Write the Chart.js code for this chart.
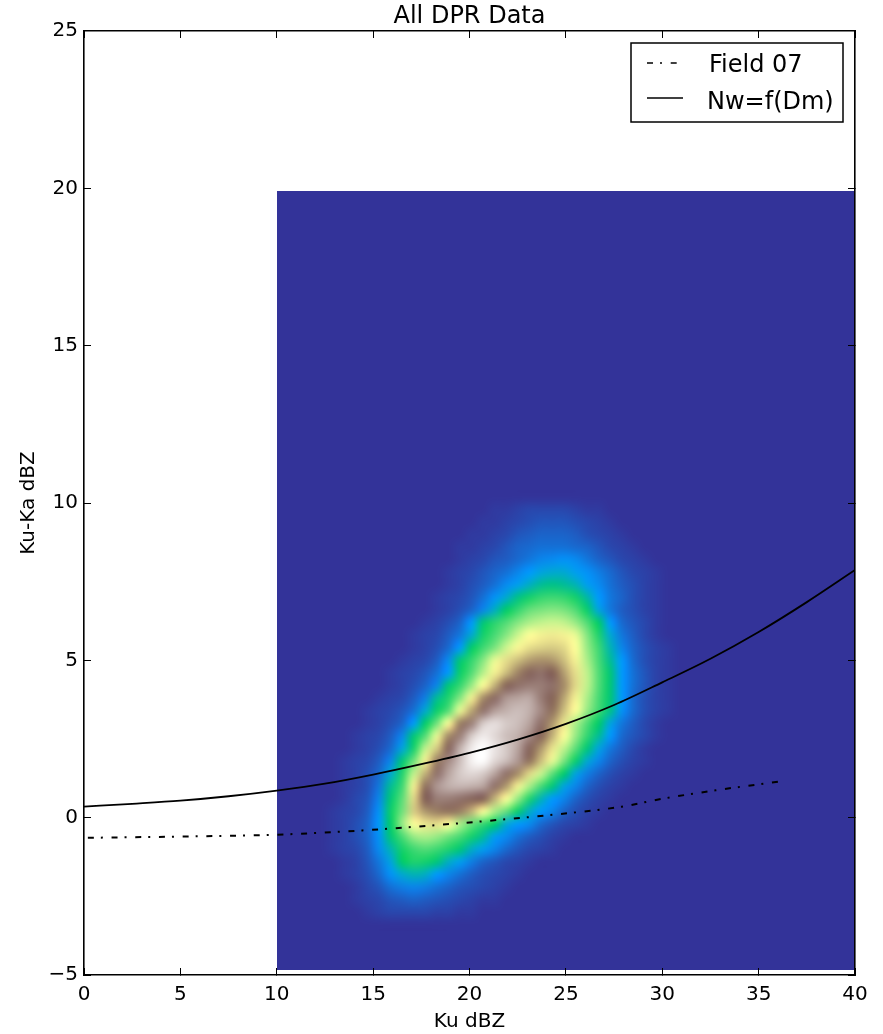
<!DOCTYPE html>
<html>
<head>
<meta charset="utf-8">
<style>
  html, body { margin: 0; padding: 0; background: #fff; }
  canvas { display: block; }
</style>
<script src="https://cdn.jsdelivr.net/npm/chart.js@4/dist/chart.umd.min.js"></script>
</head>
<body>
<canvas id="dprChart" width="883" height="1034"></canvas>
<script>
// Line data
const nwKu = [0, 2.5, 5, 7.5, 10, 12.5, 15, 17.5, 20, 22.5, 25, 27.5, 30, 32.5, 35, 37.5, 40];
const nwKa = [0.35, 0.44, 0.54, 0.68, 0.86, 1.08, 1.37, 1.7, 2.06, 2.48, 2.98, 3.58, 4.3, 5.05, 5.9, 6.85, 7.87];
const fieldKu = [0.2, 5, 10, 14.3, 18, 21.7, 25.4, 27.9, 30, 33, 36];
const fieldKa = [-0.64, -0.6, -0.54, -0.41, -0.25, -0.06, 0.16, 0.35, 0.6, 0.89, 1.14];

// Histogram bins (left edge of columns, bottom edge of rows)
const kuBins = [12, 12.6, 13.2, 13.8, 14.4, 15, 15.6, 16.2, 16.8, 17.4, 18, 18.6, 19.2, 19.8, 20.4, 21, 21.6, 22.2, 22.8, 23.4, 24, 24.6, 25.2, 25.8, 26.4, 27, 27.6, 28.2, 28.8, 29.4, 30, 30.6, 31.2, 31.8, 32.4];
const kaBins = [10, 9.6, 9.2, 8.8, 8.4, 8, 7.6, 7.2, 6.8, 6.4, 6, 5.6, 5.2, 4.8, 4.4, 4, 3.6, 3.2, 2.8, 2.4, 2, 1.6, 1.2, 0.8, 0.4, 0, -0.4, -0.8, -1.2, -1.6, -2, -2.4, -2.8, -3.2, -3.6];
const kuExtent = [10.03, 40];
const kaExtent = [-4.83, 19.92];

// Colour position (0-100) of each bin, one row per kaBins entry
const density = [
  [0,0,0,0,0, 0,0,0,0,0, 0,0,0,0,0, 0,0,0,0,0, 0,0,0,0,0, 0,0,0,0,0, 0,0,0,0,0],
  [0,0,0,0,0, 0,0,0,0,0, 0,0,0,0,0, 1,1,2,3,3, 3,3,2,1,1, 0,0,0,0,0, 0,0,0,0,0],
  [0,0,0,0,0, 0,0,0,0,0, 0,0,0,0,1, 1,2,3,4,5, 5,5,4,3,2, 1,0,0,0,0, 0,0,0,0,0],
  [0,0,0,0,0, 0,0,0,0,0, 0,0,0,1,1, 2,3,5,6,7, 7,7,6,4,3, 2,1,0,0,0, 0,0,0,0,0],
  [0,0,0,0,0, 0,0,0,0,0, 0,0,1,1,2, 3,5,7,8,9, 9,9,8,7,5, 3,2,1,0,0, 0,0,0,0,0],
  [0,0,0,0,0, 0,0,0,0,0, 0,0,1,2,3, 5,6,8,10,12, 13,14,13,10,7, 5,3,2,1,0, 0,0,0,0,0],
  [0,0,0,0,0, 0,0,0,0,0, 0,1,2,3,5, 7,9,12,15,17, 18,18,16,14,11, 8,5,3,2,1, 0,0,0,0,0],
  [0,0,0,0,0, 0,0,0,0,0, 0,1,2,4,6, 9,13,16,19,22, 23,22,20,16,13, 9,6,4,2,1, 0,0,0,0,0],
  [0,0,0,0,0, 0,0,0,0,0, 1,2,3,5,9, 14,18,23,27,30, 31,30,27,21,15, 10,7,4,2,1, 0,0,0,0,0],
  [0,0,0,0,0, 0,0,0,0,0, 1,2,4,7,12, 19,25,30,35,37, 38,37,33,26,17, 10,6,4,2,1, 0,0,0,0,0],
  [0,0,0,0,0, 0,0,0,0,1, 2,4,7,15,24, 29,33,38,42,44, 45,44,40,33,25, 15,8,5,3,1, 0,0,0,0,0],
  [0,0,0,0,0, 0,0,0,1,2, 3,6,10,18,27, 32,38,45,50,52, 53,52,48,38,28, 18,10,6,3,1, 0,0,0,0,0],
  [0,0,0,0,0, 0,0,0,1,2, 4,8,15,25,31, 37,45,51,55,57, 58,56,50,40,31, 20,12,7,4,2, 1,0,0,0,0],
  [0,0,0,0,0, 0,0,1,2,3, 6,13,24,30,38, 48,55,60,65,67, 66,60,52,42,32, 22,15,8,4,2, 1,0,0,0,0],
  [0,0,0,0,0, 0,1,2,3,5, 9,15,26,33,43, 52,60,69,76,78, 75,65,55,44,33, 24,15,9,5,2, 1,0,0,0,0],
  [0,0,0,0,0, 0,1,2,4,7, 12,24,30,40,50, 62,74,78,80,80, 78,68,56,44,33, 24,15,9,5,2, 1,0,0,0,0],
  [0,0,0,0,0, 1,2,3,6,11, 22,28,38,52,68, 77,84,86,87,80, 74,64,52,42,32, 24,15,8,4,2, 1,0,0,0,0],
  [0,0,0,0,1, 2,3,5,9,18, 26,33,48,64,78, 85,88,90,88,82, 72,60,50,40,31, 23,14,8,4,2, 1,0,0,0,0],
  [0,0,0,0,1, 2,4,7,15,25, 36,50,70,80,92, 95,92,90,86,78, 66,54,42,33,25, 17,10,6,3,1, 0,0,0,0,0],
  [0,0,0,1,2, 3,6,12,24,33, 48,68,80,92,97, 94,90,88,82,74, 62,50,40,30,22, 15,8,5,3,1, 0,0,0,0,0],
  [0,0,0,1,2, 4,8,17,27,44, 58,76,88,97,100, 96,92,86,76,66, 54,44,34,24,17, 10,6,3,1,0, 0,0,0,0,0],
  [0,0,1,2,3, 6,12,24,36,52, 70,82,90,98,100, 94,90,84,72,60, 48,37,26,18,12, 7,4,2,1,0, 0,0,0,0,0],
  [0,0,1,2,4, 8,18,28,44,62, 78,86,92,94,92, 86,78,68,56,45, 34,25,17,11,7, 4,2,1,0,0, 0,0,0,0,0],
  [0,0,1,2,4, 10,22,31,52,72, 84,88,89,88,86, 78,66,52,42,32, 24,17,12,7,4, 2,1,0,0,0, 0,0,0,0,0],
  [0,0,1,3,5, 12,24,34,56,75, 80,80,78,76,75, 62,50,40,28,20, 15,12,7,4,2, 1,0,0,0,0, 0,0,0,0,0],
  [0,1,2,3,6, 14,26,36,58,66, 70,72,70,62,50, 42,35,26,19,15, 12,7,4,2,1, 0,0,0,0,0, 0,0,0,0,0],
  [0,1,2,4,7, 15,25,40,50,54, 55,50,42,35,30, 25,18,15,13,8, 5,3,2,1,0, 0,0,0,0,0, 0,0,0,0,0],
  [0,1,2,4,7, 14,24,32,40,42, 40,36,32,27,22, 16,13,9,6,4, 2,1,0,0,0, 0,0,0,0,0, 0,0,0,0,0],
  [0,1,2,3,6, 13,20,27,31,33, 31,28,24,19,16, 12,8,5,3,2, 1,0,0,0,0, 0,0,0,0,0, 0,0,0,0,0],
  [0,0,1,2,5, 10,17,25,28,27, 24,19,16,11,7, 5,3,2,1,0, 0,0,0,0,0, 0,0,0,0,0, 0,0,0,0,0],
  [0,0,1,2,4, 8,14,18,20,19, 15,12,9,6,4, 3,2,1,0,0, 0,0,0,0,0, 0,0,0,0,0, 0,0,0,0,0],
  [0,0,0,1,3, 5,9,11,12,11, 9,7,5,4,3, 2,1,0,0,0, 0,0,0,0,0, 0,0,0,0,0, 0,0,0,0,0],
  [0,0,0,1,2, 3,5,6,7,6, 5,4,3,2,1, 1,0,0,0,0, 0,0,0,0,0, 0,0,0,0,0, 0,0,0,0,0],
  [0,0,0,0,1, 2,3,3,3,3, 2,2,1,1,0, 0,0,0,0,0, 0,0,0,0,0, 0,0,0,0,0, 0,0,0,0,0],
  [0,0,0,0,0, 0,0,0,0,0, 0,0,0,0,0, 0,0,0,0,0, 0,0,0,0,0, 0,0,0,0,0, 0,0,0,0,0]
];

const binWidth = 0.6;
const binHeight = 0.4;

// Colour stops: position, r, g, b
const colorStops = [
  [0, 51, 51, 153],
  [15, 0, 153, 255],
  [25, 0, 204, 102],
  [50, 255, 255, 153],
  [75, 128, 92, 84],
  [100, 255, 255, 255]
];

const fontName = '"DejaVu Sans", sans-serif';

function colorFor(v) {
  for (let i = 1; i < colorStops.length; i++) {
    const a = colorStops[i - 1], b = colorStops[i];
    if (v <= b[0]) {
      const t = (v - a[0]) / (b[0] - a[0]);
      const mix = k => Math.round(a[k] + (b[k] - a[k]) * t);
      return `rgb(${mix(1)},${mix(2)},${mix(3)})`;
    }
  }
  return '#fff';
}

// Draws the 2D histogram under the lines: one pixel per bin, scaled up smoothly
const heatmapPlugin = {
  id: 'heatmap',
  beforeDatasetsDraw(chart) {
    const { ctx, scales: { x, y } } = chart;
    const bins = document.createElement('canvas');
    bins.width = kuBins.length;
    bins.height = kaBins.length;
    const binCtx = bins.getContext('2d');
    density.forEach((row, r) => {
      row.forEach((v, c) => {
        binCtx.fillStyle = colorFor(v);
        binCtx.fillRect(c, r, 1, 1);
      });
    });

    const left = x.getPixelForValue(kuBins[0]);
    const right = x.getPixelForValue(kuBins[kuBins.length - 1] + binWidth);
    const top = y.getPixelForValue(kaBins[0] + binHeight);
    const bottom = y.getPixelForValue(kaBins[kaBins.length - 1]);

    const extLeft = Math.round(x.getPixelForValue(kuExtent[0]));
    const extRight = Math.round(x.getPixelForValue(kuExtent[1]));
    const extTop = Math.round(y.getPixelForValue(kaExtent[1]));
    const extBottom = Math.round(y.getPixelForValue(kaExtent[0]));

    ctx.save();
    ctx.fillStyle = colorFor(0);
    ctx.fillRect(extLeft, extTop, extRight - extLeft, extBottom - extTop);
    ctx.imageSmoothingEnabled = true;
    ctx.imageSmoothingQuality = 'high';
    ctx.drawImage(bins, left, top, right - left, bottom - top);
    ctx.restore();
  }
};

// Framed legend inside the axes, top right
const legendBoxPlugin = {
  id: 'legendBox',
  afterDraw(chart) {
    const { ctx } = chart;
    ctx.save();
    ctx.fillStyle = '#fff';
    ctx.strokeStyle = '#000';
    ctx.lineWidth = 1.5;
    ctx.fillRect(631, 43, 212, 79);
    ctx.strokeRect(631, 43, 212, 79);
    ctx.font = '24px ' + fontName;
    ctx.textBaseline = 'middle';
    ctx.textAlign = 'left';
    const rows = [
      { ds: chart.data.datasets[0], y: 63, textX: 709, textY: 66 },
      { ds: chart.data.datasets[1], y: 98, textX: 707, textY: 103 }
    ];
    rows.forEach(row => {
      ctx.beginPath();
      ctx.setLineDash(row.ds.borderDash || []);
      ctx.lineWidth = 1.3;
      ctx.moveTo(647, row.y);
      ctx.lineTo(683, row.y);
      ctx.stroke();
      ctx.setLineDash([]);
      ctx.fillStyle = '#000';
      ctx.fillText(row.ds.label, row.textX, row.textY);
    });
    ctx.restore();
  }
};

function tickLabel(v) {
  return v < 0 ? '\u2212' + Math.abs(v) : String(v);
}

// Frame and inward ticks shared by all four axes
function axisBase(range, step, position) {
  return {
    type: 'linear',
    position: position,
    min: range[0],
    max: range[1],
    grid: { drawOnChartArea: false, drawTicks: true, tickLength: -7, color: '#000', lineWidth: 1, z: 1 },
    border: { color: '#000', width: 1.6, z: 1 },
    ticks: { stepSize: step, display: false, font: { family: fontName, size: 20 }, color: '#000' }
  };
}

const xAxis = axisBase([0, 40], 5, 'bottom');
xAxis.ticks.display = true;
xAxis.ticks.padding = 15;
xAxis.ticks.maxRotation = 0;
xAxis.ticks.callback = tickLabel;
xAxis.title = { display: true, text: 'Ku dBZ', font: { family: fontName, size: 20 }, color: '#000', padding: { top: 0, bottom: 0 } };
xAxis.afterFit = s => { s.height = 59; };

const yAxis = axisBase([-5, 25], 5, 'left');
yAxis.ticks.display = true;
yAxis.ticks.padding = 13;
yAxis.ticks.callback = tickLabel;
yAxis.title = { display: true, text: 'Ku-Ka dBZ', font: { family: fontName, size: 20 }, color: '#000', padding: { top: 17, bottom: 0 } };
yAxis.afterFit = s => { s.width = 84; };

const xTop = axisBase([0, 40], 5, 'top');
xTop.afterFit = s => { s.height = 0; };
const yRight = axisBase([-5, 25], 5, 'right');
yRight.afterFit = s => { s.width = 0; };

new Chart(document.getElementById('dprChart'), {
  type: 'scatter',
  data: {
    datasets: [{
      label: 'Field 07',
      data: fieldKu.map((x, i) => ({ x: x, y: fieldKa[i] })),
      showLine: true,
      borderColor: '#000',
      borderWidth: 2,
      borderDash: [6, 7, 2, 8.7],
      pointRadius: 0,
      cubicInterpolationMode: 'monotone',
      fill: false
    }, {
      label: 'Nw=f(Dm)',
      data: nwKu.map((x, i) => ({ x: x, y: nwKa[i] })),
      showLine: true,
      borderColor: '#000',
      borderWidth: 1.8,
      pointRadius: 0,
      cubicInterpolationMode: 'monotone',
      fill: false
    }]
  },
  options: {
    responsive: false,
    animation: false,
    layout: { padding: { left: 0, right: 28, top: 0, bottom: 0 } },
    plugins: {
      legend: { display: false },
      tooltip: { enabled: false },
      title: {
        display: true,
        text: 'All DPR Data',
        fullSize: false,
        font: { family: fontName, size: 24, weight: 'normal' },
        color: '#000',
        padding: { top: 2.2, bottom: 0 }
      }
    },
    scales: { x: xAxis, y: yAxis, x2: xTop, y2: yRight }
  },
  plugins: [heatmapPlugin, legendBoxPlugin]
});
</script>
</body>
</html>
